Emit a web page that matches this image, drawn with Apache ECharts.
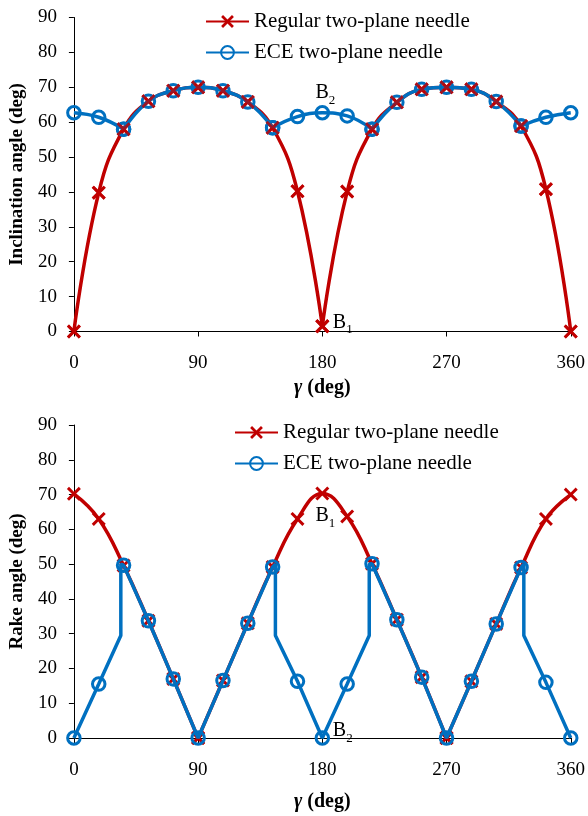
<!DOCTYPE html>
<html>
<head>
<meta charset="utf-8">
<script src="https://cdn.jsdelivr.net/npm/echarts@6/dist/echarts.min.js"></script>
<style>
  html, body { margin: 0; padding: 0; background: #fff; }
  #chart { width: 588px; height: 816px; }
</style>
</head>
<body>
<div id="chart"></div>
<script>
// Needle rotation angle gamma (deg), sampled every 18 deg
const gamma = [0, 18, 36, 54, 72, 90, 108, 126, 144, 162, 180, 198, 216, 234, 252, 270, 288, 306, 324, 342, 360];

// Inclination angle (deg)
const inclinationRegular = [0, 39.8, 58, 66, 69, 70, 69, 65.8, 58.4, 40.2, 1.5, 40.1, 58, 65.7, 69.4, 70, 69.4, 65.9, 58.9, 40.8, 0];
const inclinationECE     = [62.7, 61.4, 58, 66, 69, 70, 69, 65.8, 58.4, 61.6, 62.7, 61.8, 58, 65.7, 69.4, 70, 69.4, 65.9, 58.9, 61.4, 62.7];

// Rake angle (deg)
const rakeRegular = [70.2, 63, 49.6, 33.7, 17, 0, 16.5, 33, 49.2, 63, 70.3, 63.7, 50.1, 34, 17.5, 0, 16.3, 32.8, 49, 63, 70];
const rakeECE     = [0, 15.5, 49.7, 33.7, 17, 0, 16.5, 33, 49.2, 16.3, 0, 15.5, 50.1, 34, 17.5, 0, 16.3, 32.8, 49, 16, 0];

// Sharp corners where the smoothed curves are not rounded off
const inclinationRegularCusps = [180];
const inclinationECECusps = [36, 144, 216, 324];
const rakeRegularCusps = [90, 270];
// Vertical jumps of the ECE rake curve: [gamma, value before, value after]
const rakeECEJumps = [[34, 29.5, 50], [146, 50, 29.5], [214, 29.5, 50], [326, 50, 29.5]];

const seriesNames = ['Regular two-plane needle', 'ECE two-plane needle'];

const RED = '#C00000';
const BLUE = '#0070C0';
const FONT = '"Liberation Serif", "Times New Roman", serif';
const CROSS = 'path://M0,1.5L1.5,0L5,3.5L8.5,0L10,1.5L6.5,5L10,8.5L8.5,10L5,6.5L1.5,10L0,8.5L3.5,5Z';

// Points of a curve, with a gap inserted at each cusp so that smoothing restarts there
function withCusps(xs, ys, cusps) {
  const out = [];
  xs.forEach((x, i) => {
    out.push([x, ys[i]]);
    if (cusps.includes(x)) {
      out.push([x, '-']);
      out.push([x, ys[i]]);
    }
  });
  return out;
}

// Points of a polyline with vertical jumps; jump vertices carry no marker
function withJumps(xs, ys, jumps) {
  const out = [];
  xs.forEach((x, i) => {
    out.push({ value: [x, ys[i]] });
    const next = xs[i + 1];
    jumps.forEach(([jx, from, to]) => {
      if (next !== undefined && jx > x && jx < next) {
        out.push({ value: [jx, from], symbol: 'none' });
        out.push({ value: [jx, to], symbol: 'none' });
      }
    });
  });
  return out;
}

function pairs(xs, ys) { return xs.map((x, i) => [x, ys[i]]); }

const subLabel = (letter, idx) => `{b|${letter}}{s|${idx}}`;
const subRich = {
  b: { fontFamily: FONT, fontSize: 20, color: '#000', verticalAlign: 'bottom', lineHeight: 20 },
  s: { fontFamily: FONT, fontSize: 13, color: '#000', verticalAlign: 'bottom', lineHeight: 20, padding: [0, 0, -4, 0] }
};

function xAxisCfg(gridIndex, labelMargin, nameGap) {
  return {
    gridIndex, type: 'value', min: 0, max: 360, interval: 90,
    name: '{g|γ} (deg)', nameLocation: 'middle', nameGap,
    nameTextStyle: {
      fontFamily: FONT, fontSize: 20, fontWeight: 'bold', color: '#000',
      rich: { g: { fontFamily: FONT, fontSize: 20, fontWeight: 'bold', fontStyle: 'italic', color: '#000' } }
    },
    axisLine: { onZero: false, lineStyle: { color: '#000', width: 1 } },
    axisTick: { show: true, inside: false, length: 5, lineStyle: { color: '#000' } },
    axisLabel: { margin: labelMargin, fontFamily: FONT, fontSize: 19, color: '#000' },
    splitLine: { show: false }
  };
}

function yAxisCfg(gridIndex, name) {
  return {
    gridIndex, type: 'value', min: 0, max: 90, interval: 10,
    name, nameLocation: 'middle', nameGap: 45,
    nameTextStyle: { fontFamily: FONT, fontSize: 19, fontWeight: 'bold', color: '#000' },
    axisLine: { show: true, lineStyle: { color: '#000', width: 1 } },
    axisTick: { show: true, inside: false, length: 5, lineStyle: { color: '#000' } },
    axisLabel: { margin: 17, fontFamily: FONT, fontSize: 19, color: '#000' },
    splitLine: { show: false }
  };
}

function legendCfg(left, top) {
  return {
    data: seriesNames, orient: 'vertical', left, top,
    itemWidth: 43, itemHeight: 16, itemGap: 10,
    textStyle: { fontFamily: FONT, fontSize: 21, color: '#000', lineHeight: 20 },
    selectedMode: false
  };
}

const regularStyle = {
  symbol: CROSS, symbolSize: 14,
  itemStyle: { color: RED },
  lineStyle: { color: RED, width: 3.5 }
};
const eceStyle = {
  symbol: 'circle', symbolSize: 12.5,
  itemStyle: { color: 'rgba(255,255,255,0)', borderColor: BLUE, borderWidth: 3 },
  lineStyle: { color: BLUE, width: 3.5 }
};

const iMid = gamma.indexOf(180);

const option = {
  animation: false,
  backgroundColor: '#fff',
  grid: [
    { left: 73, right: 16, top: 17.5, height: 314 },
    { left: 73, right: 16, top: 425, height: 313 }
  ],
  legend: [legendCfg(200, 6), legendCfg(229, 417)],
  xAxis: [xAxisCfg(0, 22, 46), xAxisCfg(1, 23, 54)],
  yAxis: [yAxisCfg(0, 'Inclination angle (deg)'), yAxisCfg(1, 'Rake angle (deg)')],
  series: [
    // Inclination angle
    Object.assign({
      name: seriesNames[0], type: 'line', xAxisIndex: 0, yAxisIndex: 0, z: 2,
      smooth: 0.45, showAllSymbol: true,
      data: withCusps(gamma, inclinationRegular, inclinationRegularCusps)
    }, regularStyle),
    Object.assign({
      name: seriesNames[1], type: 'line', xAxisIndex: 0, yAxisIndex: 0, z: 3,
      smooth: 0.45, showAllSymbol: true,
      data: withCusps(gamma, inclinationECE, inclinationECECusps),
      markPoint: {
        symbol: 'circle', symbolSize: 1, itemStyle: { color: 'rgba(0,0,0,0)' },
        label: { show: true, position: 'top', distance: 9, offset: [3, 0], formatter: subLabel('B', 2), rich: subRich },
        data: [{ coord: [gamma[iMid], inclinationECE[iMid]] }]
      }
    }, eceStyle),
    {
      name: 'Regular markers', type: 'scatter', xAxisIndex: 0, yAxisIndex: 0, z: 4, silent: true,
      symbol: CROSS, symbolSize: 14, itemStyle: { color: RED },
      data: pairs(gamma, inclinationRegular),
      markPoint: {
        symbol: 'circle', symbolSize: 1, itemStyle: { color: 'rgba(0,0,0,0)' },
        label: { show: true, position: 'right', distance: 10, offset: [0, -4], formatter: subLabel('B', 1), rich: subRich },
        data: [{ coord: [gamma[iMid], inclinationRegular[iMid]] }]
      }
    },
    // Rake angle
    Object.assign({
      name: seriesNames[0], type: 'line', xAxisIndex: 1, yAxisIndex: 1, z: 2,
      smooth: 0.45, showAllSymbol: true,
      data: withCusps(gamma, rakeRegular, rakeRegularCusps),
      markPoint: {
        symbol: 'circle', symbolSize: 1, itemStyle: { color: 'rgba(0,0,0,0)' },
        label: { show: true, position: 'bottom', distance: 12, offset: [3, 0], formatter: subLabel('B', 1), rich: subRich },
        data: [{ coord: [gamma[iMid], rakeRegular[iMid]] }]
      }
    }, regularStyle),
    Object.assign({
      name: seriesNames[1], type: 'line', xAxisIndex: 1, yAxisIndex: 1, z: 3,
      smooth: false, showAllSymbol: true,
      data: withJumps(gamma, rakeECE, rakeECEJumps),
      markPoint: {
        symbol: 'circle', symbolSize: 1, itemStyle: { color: 'rgba(0,0,0,0)' },
        label: { show: true, position: 'right', distance: 10, offset: [0, -7], formatter: subLabel('B', 2), rich: subRich },
        data: [{ coord: [gamma[iMid], rakeECE[iMid]] }]
      }
    }, eceStyle)
  ]
};

const chart = echarts.init(document.getElementById('chart'), null, { renderer: 'canvas' });
chart.setOption(option);
</script>
</body>
</html>
